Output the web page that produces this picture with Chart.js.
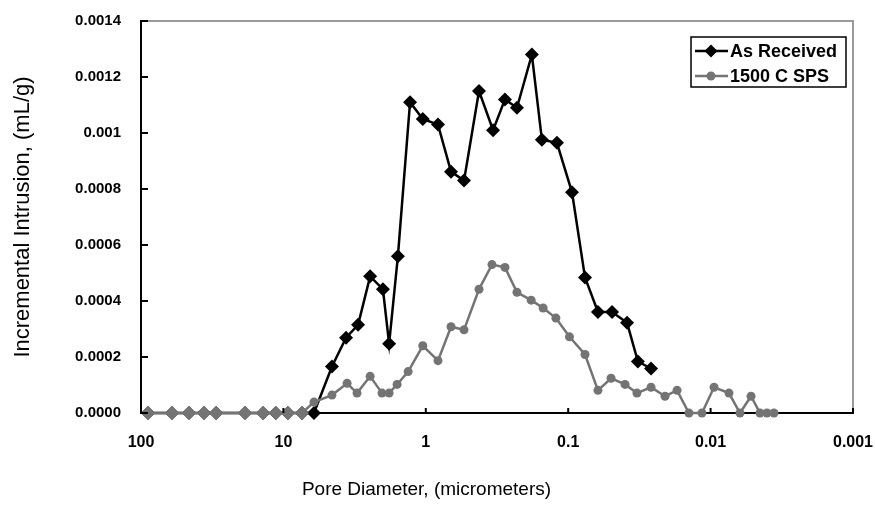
<!DOCTYPE html>
<html>
<head>
<meta charset="utf-8">
<script src="https://cdn.jsdelivr.net/npm/chart.js@4.4.1/dist/chart.umd.min.js"></script>
<style>
  body { margin: 0; background: #fff; }
</style>
</head>
<body>
<canvas id="poreChart" width="875" height="507"></canvas>
<script>
// pore diameter (micrometers) and incremental intrusion (mL/g)
const asReceivedDiameter = [89.3, 60.6, 46.0, 36.1, 29.7, 18.6, 13.9, 11.3, 9.29, 7.40,
  6.10, 4.56, 3.63, 2.99, 2.46, 2.00, 1.81, 1.57, 1.29, 1.05,
  0.821, 0.665, 0.539, 0.423, 0.337, 0.278, 0.229, 0.180, 0.153, 0.120,
  0.094, 0.0762, 0.0618, 0.0492, 0.0386, 0.0324, 0.0262];
const asReceivedIntrusion = [0, 0, 0, 0, 0, 0, 0, 0, 0, 0,
  0, 0.000166, 0.000269, 0.000315, 0.000488, 0.000442, 0.000247, 0.00056, 0.00111, 0.00105,
  0.00103, 0.000862, 0.00083, 0.00115, 0.00101, 0.00112, 0.00109, 0.00128, 0.000976, 0.000965,
  0.000788, 0.000484, 0.000361, 0.000361, 0.000322, 0.000184, 0.000159];

const spsDiameter = [89.3, 60.6, 46.0, 36.1, 29.7, 18.6, 13.9, 11.3, 9.29, 7.40,
  6.1, 4.56, 3.57, 3.04, 2.46, 2.03, 1.81, 1.59, 1.33, 1.05,
  0.821, 0.665, 0.539, 0.423, 0.343, 0.278, 0.229, 0.182, 0.150, 0.122,
  0.098, 0.0762, 0.0618, 0.050, 0.0399, 0.0329, 0.0262, 0.0209, 0.0172, 0.0142,
  0.0115, 0.00946, 0.00743, 0.00622, 0.0052, 0.0045, 0.00402, 0.00359];
const spsIntrusion = [0, 0, 0, 0, 0, 0, 0, 0, 0, 0,
  0.000039, 0.000064, 0.000106, 0.000071, 0.000131, 0.000071, 0.000071, 0.000102, 0.000148, 0.00024,
  0.000187, 0.000308, 0.000297, 0.000442, 0.00053, 0.00052, 0.000431, 0.000403, 0.000375, 0.000339,
  0.000272, 0.000209, 0.000081, 0.000124, 0.000102, 0.000071, 0.000092, 0.00006, 0.000081, 0,
  0, 0.000092, 0.000071, 0, 0.00006, 0, 0, 0];

const seriesNames = ["As Received", "1500 C SPS"];
const xTickValues = [100, 10, 1, 0.1, 0.01, 0.001];
const xTickLabels = ["100", "10", "1", "0.1", "0.01", "0.001"];
const yTickValues = [0, 0.0002, 0.0004, 0.0006, 0.0008, 0.001, 0.0012, 0.0014];
const yTickLabels = ["0.0000", "0.0002", "0.0004", "0.0006", "0.0008", "0.001", "0.0012", "0.0014"];

const BLACK = "#000000";
const GREY = "#747474";
const SANS = "'Liberation Sans', Arial, sans-serif";

const toPoints = (xs, ys) => xs.map((x, i) => ({ x: x, y: ys[i] }));

// frame, inward tick marks and the boxed legend
const decorations = {
  id: "decorations",
  afterDatasetsDraw(chart) {
    const { ctx, chartArea: a, scales } = chart;
    ctx.save();
    ctx.strokeStyle = "#9a9a9a";
    ctx.lineWidth = 2;
    ctx.beginPath();
    ctx.moveTo(a.left, a.top);
    ctx.lineTo(a.right, a.top);
    ctx.lineTo(a.right, a.bottom);
    ctx.stroke();

    ctx.strokeStyle = BLACK;
    ctx.lineWidth = 2;
    ctx.beginPath();
    yTickValues.forEach((v) => {
      const y = scales.y.getPixelForValue(v);
      ctx.moveTo(a.left, y);
      ctx.lineTo(a.left + 7, y);
    });
    xTickValues.forEach((v) => {
      const x = scales.x.getPixelForValue(v);
      ctx.moveTo(x, a.bottom);
      ctx.lineTo(x, a.bottom - 5);
    });
    ctx.stroke();
    ctx.restore();
  },
  afterDraw(chart) {
    const { ctx, chartArea: a } = chart;
    const w = 155, h = 50;
    const left = a.right - 162, top = a.top + 16;
    ctx.save();
    ctx.fillStyle = "#fff";
    ctx.fillRect(left, top, w, h);
    ctx.strokeStyle = BLACK;
    ctx.lineWidth = 1.5;
    ctx.strokeRect(left, top, w, h);
    chart.data.datasets.forEach((ds, i) => {
      const y = top + 14 + i * 25;
      ctx.strokeStyle = ds.borderColor;
      ctx.lineWidth = 2.5;
      ctx.beginPath();
      ctx.moveTo(left + 4, y);
      ctx.lineTo(left + 37, y);
      ctx.stroke();
      ctx.fillStyle = ds.borderColor;
      ctx.beginPath();
      if (i === 0) {
        ctx.moveTo(left + 20, y - 6.5);
        ctx.lineTo(left + 26.5, y);
        ctx.lineTo(left + 20, y + 6.5);
        ctx.lineTo(left + 13.5, y);
        ctx.closePath();
      } else {
        ctx.arc(left + 20, y, 4.5, 0, Math.PI * 2);
      }
      ctx.fill();
      ctx.fillStyle = BLACK;
      ctx.font = "bold 18px " + SANS;
      ctx.textBaseline = "middle";
      ctx.fillText(ds.label, left + 39, y + 1);
    });
    ctx.restore();
  }
};

new Chart(document.getElementById("poreChart"), {
  type: "line",
  data: {
    datasets: [
      {
        label: seriesNames[0],
        data: toPoints(asReceivedDiameter, asReceivedIntrusion),
        borderColor: BLACK,
        backgroundColor: BLACK,
        borderWidth: 2.5,
        pointStyle: "rectRot",
        pointRadius: 7,
        pointHoverRadius: 7,
        pointBorderWidth: 0,
        tension: 0,
        clip: false,
        order: 1
      },
      {
        label: seriesNames[1],
        data: toPoints(spsDiameter, spsIntrusion),
        borderColor: GREY,
        backgroundColor: GREY,
        borderWidth: 2.5,
        // the zero readings at the coarse end show as grey diamonds
        pointStyle: (c) => (c.raw && c.raw.x > 7 ? "rectRot" : "circle"),
        pointRadius: (c) => (c.raw && c.raw.x > 7 ? 7 : 4.5),
        pointBorderWidth: 0,
        tension: 0,
        clip: false,
        order: 0
      }
    ]
  },
  options: {
    responsive: false,
    animation: false,
    devicePixelRatio: 1,
    layout: { padding: { top: 17, right: 22, left: 0, bottom: 0 } },
    plugins: {
      legend: { display: false },
      tooltip: { enabled: false },
      title: {
        display: true,
        position: "bottom",
        text: "Pore Diameter, (micrometers)",
        color: BLACK,
        font: { family: SANS, size: 19, weight: "normal" },
        padding: { top: 0, bottom: 6 }
      }
    },
    scales: {
      x: {
        type: "logarithmic",
        reverse: true,
        min: 0.001,
        max: 100,
        afterBuildTicks: (s) => { s.ticks = xTickValues.map((v) => ({ value: v })); },
        afterFit: (s) => {
          s.height = 94 - 28.8;
          s.paddingLeft = 0;
          s.paddingRight = 0;
        },
        grid: { display: false },
        border: { display: true, color: BLACK, width: 2 },
        ticks: {
          autoSkip: false,
          maxRotation: 0,
          padding: 12,
          color: BLACK,
          font: { family: SANS, size: 16, weight: "bold" },
          callback: (v) => xTickLabels[xTickValues.indexOf(v)]
        }
      },
      y: {
        min: 0,
        max: 0.0014,
        afterBuildTicks: (s) => { s.ticks = yTickValues.map((v) => ({ value: v })); },
        afterFit: (s) => { s.width = 141; },
        grid: { display: false },
        border: { display: true, color: BLACK, width: 2 },
        ticks: {
          padding: 12,
          color: BLACK,
          font: { family: SANS, size: 15, weight: "bold" },
          callback: (v, i) => yTickLabels[i]
        },
        title: {
          display: true,
          text: "Incremental Intrusion, (mL/g)",
          color: BLACK,
          font: { family: SANS, size: 22, weight: "normal" },
          padding: { top: 10, bottom: 0 }
        }
      }
    }
  },
  plugins: [decorations]
});
</script>
</body>
</html>
